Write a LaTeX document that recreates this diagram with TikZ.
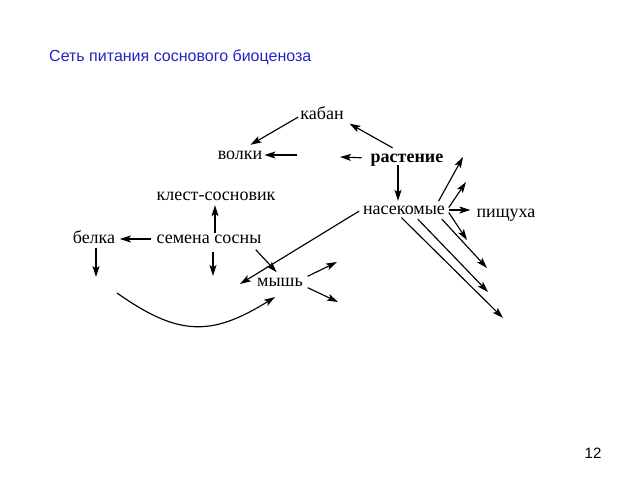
\documentclass[tikz,border=0pt]{standalone}
\usepackage{fontspec}
\setmainfont{Liberation Serif}
\newfontfamily\headfont{Liberation Sans}
\usetikzlibrary{arrows.meta}
\definecolor{headblue}{RGB}{36,36,196}

\begin{document}
\begin{tikzpicture}[x=1pt, y=-1pt]
        \tikzstyle{every node}=[inner sep=2pt, text height=8pt, text depth=0pt, anchor=base, font=\fontsize{18}{20}\selectfont]
        \tikzstyle{link}=[line width=1.15pt, -{Stealth[length=11pt, width=7pt, inset=2.5pt]}]

        \useasboundingbox (0,0) rectangle (640,480);

        \node   (head)  [anchor=base west, text=headblue, font=\headfont\fontsize{16}{18}\selectfont] at (47,61) {Сеть питания соснового биоценоза};
        \node   (page)  [font=\headfont\fontsize{15}{17}\selectfont] at (593,458) {12};

        \node   (kaban) at (322,119) {кабан};
        \node   (volki) at (240,159) {волки};
        \node   (rast)  [font=\bfseries\fontsize{18}{20}\selectfont] at (407,162) {растение};
        \node   (nas)   at (404,214) {насекомые};
        \node   (pish)  at (506,217) {пищуха};
        \node   (klest) at (216,200) {клест-сосновик};
        \node   (belka) at (94,243) {белка};
        \node   (sem)   at (209,243) {семена сосны};
        \node   (mysh)  at (280,286) {мышь};

        % free ends
        \coordinate (volkiin)  at (297,155);
        \coordinate (rastout)  at (340,157);
        \coordinate (rastfoot) at ([xshift=-9pt]rast.south);
        \coordinate (semtop)   at ([xshift=6pt]sem.north);
        \coordinate (up1)      at (463,157);
        \coordinate (up2)      at (466,182);
        \coordinate (dn1)      at (467,240);
        \coordinate (dn2)      at (487,268);
        \coordinate (dn3)      at (488,292);
        \coordinate (dn4)      at (503,318);
        \coordinate (myshleft) at (240,284);
        \coordinate (belkadn)  at (96,277);
        \coordinate (semdn)    at (213,276);
        \coordinate (myshup)   at (337,262);
        \coordinate (myshdn)   at (338,302);
        \coordinate (arcbeg)   at (117,293);
        \coordinate (arcend)   at (275,297);

        \path[link] (rast.140)  edge [shorten <=8pt, shorten >=5pt] (kaban.-15)
                    (kaban.185) edge [shorten >=8pt] (volki.60)
                    (volkiin)   edge (volki.east)
                    (rast.west) edge [shorten <=7pt] (rastout)
                    (rastfoot)  edge [shorten <=1pt, shorten >=3pt] (rastfoot |- nas.north);

        \path[link] ([xshift=-10pt]nas.north east) edge [shorten <=3pt] (up1)
                    (nas.east) edge [shorten <=3pt] (up2)
                    (nas.east) edge [shorten <=2pt, shorten >=4pt] (nas.east -| pish.west)
                    (nas.east) edge [shorten <=3pt] (dn1)
                    ([xshift=-8pt]nas.south east) edge [shorten <=4pt] (dn2)
                    ([xshift=11pt]nas.south) edge [shorten <=4pt] (dn3)
                    ([xshift=-4pt]nas.south) edge [shorten <=2pt] (dn4)
                    (nas.west) edge [shorten <=2pt] (myshleft);

        \path[link] (semtop)   edge [shorten >=3pt] (semtop |- klest.south)
                    (sem.west) edge [shorten <=3pt, shorten >=2.5pt] (belka.east)
                    (belkadn |- belka.south) edge [shorten <=3pt] (belkadn)
                    (semdn |- sem.south) edge [shorten <=7pt] (semdn)
                    ([xshift=-12pt]sem.south east) edge [shorten <=6pt, shorten >=5pt] (mysh.north)
                    (mysh.10)  edge [shorten <=3pt] (myshup)
                    (mysh.-10) edge [shorten <=3pt] (myshdn);

        \draw[link] (arcbeg) .. controls (178,336) and (211,337) .. (arcend);

    \end{tikzpicture}
\end{document}
